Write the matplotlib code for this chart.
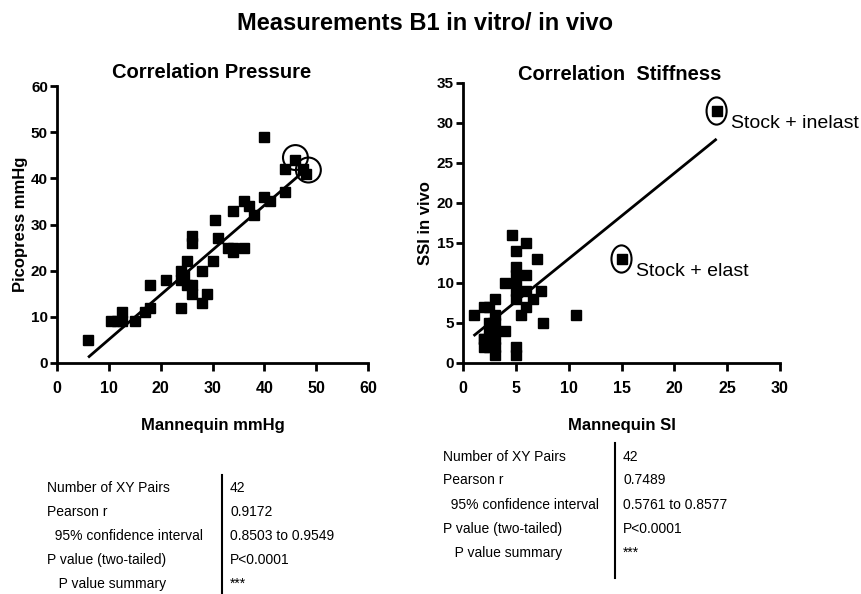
import matplotlib
matplotlib.use("Agg")
import matplotlib.pyplot as plt
from matplotlib.patches import Ellipse

plt.rcParams['font.family'] = ['Liberation Sans', 'DejaVu Sans']

# ---- Data: Correlation Pressure ----
pressure_mannequin = [6, 10.5, 11.5, 12.5, 12.5, 15, 17, 18, 18, 21, 24, 24, 24, 25, 25, 26,
                      26, 26, 26, 28, 28, 29, 30, 30.5, 31, 33, 34, 34, 34, 36, 36, 37, 38,
                      40, 40, 41, 44, 44, 46, 48, 47.5, 24.5]
pressure_picopress = [5, 9, 9, 9, 11, 9, 11, 12, 17, 18, 12, 20, 18, 22, 17, 17,
                      26, 27.5, 15, 13, 20, 15, 22, 31, 27, 25, 33, 25, 24, 25, 35, 34, 32,
                      36, 49, 35, 42, 37, 44, 41, 42, 19]
pressure_fit_x = [6.2, 47.8]
pressure_fit_y = [1.4, 41.7]
pressure_circled_x = [46, 48.5]
pressure_circled_y = [44.5, 41.8]

# ---- Data: Correlation Stiffness ----
stiff_mannequin = [1, 2, 2.5, 3, 2, 2, 2.5, 2.8, 3, 3, 2.8, 4, 4, 4.6, 5, 5, 5, 5, 5, 5, 5,
                   6, 6, 6, 6, 5.5, 6.6, 7, 7.4, 7.6, 10.7, 15, 24,
                   3, 2.5, 3, 2, 3, 2.5, 3, 2.5, 5]
stiff_ssi = [6, 7, 7, 8, 2, 3, 4, 5, 3, 1, 3, 4, 10, 16, 14, 12, 11, 9, 8, 2, 1,
             15, 11, 9, 7, 6, 8, 13, 9, 5, 6, 13, 31.5,
             5, 5, 4, 3, 2, 3, 6, 2, 10]
stiff_fit_x = [1.1, 23.9]
stiff_fit_y = [3.5, 27.9]
stiff_circled_x = [15, 24]
stiff_circled_y = [13, 31.5]
stiff_annotations = ["Stock + elast", "Stock + inelast"]

# ---- Table data ----
table_labels = ["Number of XY Pairs", "Pearson r", "  95% confidence interval",
                "P value (two-tailed)", "   P value summary"]
left_values = ["42", "0.9172", "0.8503 to 0.9549", "P<0.0001", "***"]
right_values = ["42", "0.7489", "0.5761 to 0.8577", "P<0.0001", "***"]

W, H = 861, 594
fig = plt.figure(figsize=(W / 100, H / 100), dpi=100)
fig.patch.set_facecolor('white')


def px_box(x0, y0, x1, y1):
    return [x0 / W, 1 - y1 / H, (x1 - x0) / W, (y1 - y0) / H]


def style_axes(ax):
    for s in ['top', 'right']:
        ax.spines[s].set_visible(False)
    for s in ['left', 'bottom']:
        ax.spines[s].set_linewidth(2)
    ax.tick_params(axis='x', direction='out', length=6, width=2, labelsize=11.5, pad=7)
    ax.tick_params(axis='y', direction='out', length=5, width=2, labelsize=11, pad=1.5)
    for lab in ax.get_xticklabels() + ax.get_yticklabels():
        lab.set_fontweight('bold')


fig.text(425 / W, 1 - 23 / H, "Measurements B1 in vitro/ in vivo", ha='center', va='center',
         fontsize=17, fontweight='bold')

# Left plot
ax1 = fig.add_axes(px_box(57, 86, 368, 363))
ax1.set_xlim(0, 60)
ax1.set_ylim(0, 60)
ax1.set_xticks(range(0, 61, 10))
ax1.set_yticks(range(0, 61, 10))
ax1.plot(pressure_mannequin, pressure_picopress, 's', color='black', markersize=6.8, clip_on=False)
ax1.plot(pressure_fit_x, pressure_fit_y, '-', color='black', lw=2)
for cx, cy in zip(pressure_circled_x, pressure_circled_y):
    ax1.add_patch(Ellipse((cx, cy), 4.8, 5.4, fill=False, lw=1.5, edgecolor='black', clip_on=False))
style_axes(ax1)
fig.text(212 / W, 1 - 73 / H, "Correlation Pressure", ha='center', va='center',
         fontsize=14.5, fontweight='bold')
ax1.set_xlabel("Mannequin mmHg", fontsize=12, fontweight='bold', labelpad=16)
ax1.set_ylabel("Picopress mmHg", fontsize=12, fontweight='bold', labelpad=2)

# Right plot
ax2 = fig.add_axes(px_box(463, 83, 780, 363))
ax2.set_xlim(0, 30)
ax2.set_ylim(0, 35)
ax2.set_xticks(range(0, 31, 5))
ax2.set_yticks(range(0, 36, 5))
ax2.plot(stiff_mannequin, stiff_ssi, 's', color='black', markersize=6.8, clip_on=False)
ax2.plot(stiff_fit_x, stiff_fit_y, '-', color='black', lw=2)
for cx, cy in zip(stiff_circled_x, stiff_circled_y):
    ax2.add_patch(Ellipse((cx, cy), 1.9, 3.4, fill=False, lw=1.5, edgecolor='black', clip_on=False))
for cx, cy, t in zip(stiff_circled_x, stiff_circled_y, stiff_annotations):
    ax2.text(cx + 1.4, cy - 1.5, t, fontsize=14, va='center', ha='left', clip_on=False)
style_axes(ax2)
fig.text(620 / W, 1 - 75 / H, "Correlation  Stiffness", ha='center', va='center',
         fontsize=14.5, fontweight='bold')
ax2.set_xlabel("Mannequin SI", fontsize=12, fontweight='bold', labelpad=16)
ax2.set_ylabel("SSI in vivo", fontsize=12, fontweight='bold', labelpad=3)


# Tables
def draw_table(x_lab, x_line, x_val, row_ys, line_y0, line_y1, values):
    for lab, val, y in zip(table_labels, values, row_ys):
        fig.text(x_lab / W, 1 - y / H, lab, ha='left', va='center', fontsize=10)
        fig.text(x_val / W, 1 - y / H, val, ha='left', va='center', fontsize=10)
    fig.add_artist(plt.Line2D([x_line / W, x_line / W], [1 - line_y0 / H, 1 - line_y1 / H],
                              color='black', lw=1.5))


draw_table(47, 222, 230, [488, 512, 536, 560, 584], 475, 594, left_values)
draw_table(443, 615, 623, [457, 480, 505, 529, 553], 443, 578, right_values)

fig.savefig("out.png", dpi=100)
